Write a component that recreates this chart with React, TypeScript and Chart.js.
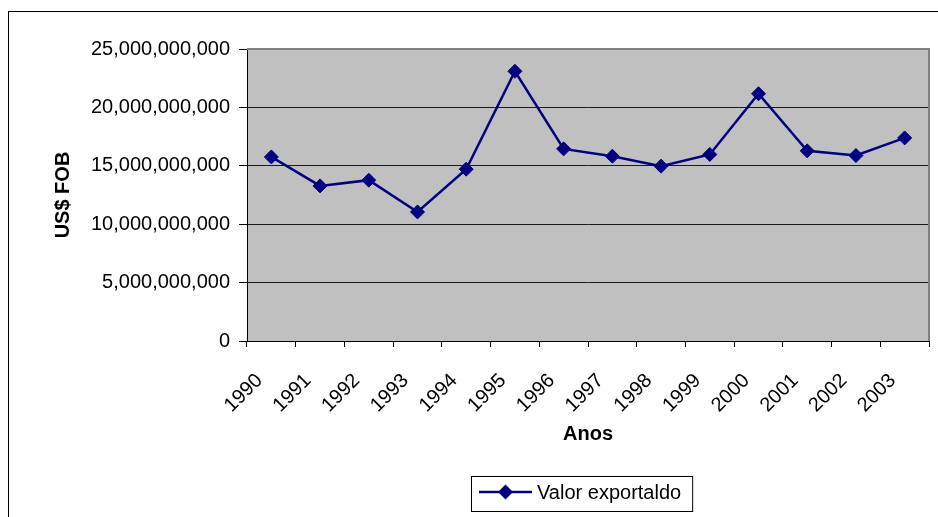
import React, { useEffect, useRef } from 'react';
import { Chart, registerables } from 'chart.js';

Chart.register(...registerables);

const years = ['1990', '1991', '1992', '1993', '1994', '1995', '1996', '1997', '1998', '1999', '2000', '2001', '2002', '2003'];
const exportValues = [
  15760000000, 13280000000, 13770000000, 11050000000, 14710000000, 23090000000, 16450000000,
  15820000000, 14970000000, 15970000000, 21170000000, 16280000000, 15880000000, 17390000000,
];
const seriesLabel = 'Valor exportaldo';
const xTitle = 'Anos';
const yTitle = 'US$ FOB';
const yMin = 0;
const yMax = 25000000000;
const yStep = 5000000000;

const FONT = '"Liberation Sans", Arial, Helvetica, sans-serif';
const NAVY = '#000080';

const framePlugin = {
  id: 'frame',
  beforeDraw(chart: any) {
    const { ctx, chartArea: a, width, height } = chart;
    ctx.save();
    ctx.fillStyle = '#ffffff';
    ctx.fillRect(0, 0, width, height);
    ctx.strokeStyle = '#000000';
    ctx.lineWidth = 1;
    ctx.strokeRect(8.5, 11.5, width + 20, height + 20);
    ctx.fillStyle = '#C0C0C0';
    ctx.fillRect(a.left, a.top, a.right - a.left, a.bottom - a.top);
    ctx.restore();
  },
  beforeDatasetsDraw(chart: any) {
    const { ctx, chartArea: a } = chart;
    ctx.save();
    ctx.strokeStyle = '#808080';
    ctx.lineWidth = 2;
    ctx.beginPath();
    ctx.moveTo(a.left, a.top);
    ctx.lineTo(a.right, a.top);
    ctx.lineTo(a.right, a.bottom);
    ctx.stroke();
    ctx.restore();
  },
};

const boxLegendPlugin = {
  id: 'boxLegend',
  afterDraw(chart: any) {
    const ds = chart.data.datasets[0];
    const { ctx } = chart;
    ctx.save();
    ctx.font = `20px ${FONT}`;
    const tw = ctx.measureText(ds.label).width;
    const x0 = 471;
    const y0 = 476;
    const h = 35;
    const padL = 8;
    const lineLen = 53;
    const gap = 5;
    const padR = 11;
    const w = padL + lineLen + gap + tw + padR;
    ctx.fillStyle = '#ffffff';
    ctx.fillRect(x0, y0, w, h);
    ctx.strokeStyle = '#000000';
    ctx.lineWidth = 1;
    ctx.strokeRect(x0 + 0.5, y0 + 0.5, w, h);
    const cy = y0 + 16;
    ctx.strokeStyle = ds.borderColor;
    ctx.lineWidth = ds.borderWidth;
    ctx.beginPath();
    ctx.moveTo(x0 + padL, cy);
    ctx.lineTo(x0 + padL + lineLen, cy);
    ctx.stroke();
    const mx = x0 + padL + lineLen / 2;
    const r = 7.5;
    ctx.fillStyle = ds.pointBackgroundColor;
    ctx.beginPath();
    ctx.moveTo(mx, cy - r);
    ctx.lineTo(mx + r, cy);
    ctx.lineTo(mx, cy + r);
    ctx.lineTo(mx - r, cy);
    ctx.closePath();
    ctx.fill();
    ctx.fillStyle = '#000000';
    ctx.textAlign = 'left';
    ctx.textBaseline = 'middle';
    ctx.fillText(ds.label, x0 + padL + lineLen + gap, cy + 1);
    ctx.restore();
  },
};

export default function App() {
  const canvasRef = useRef<HTMLCanvasElement | null>(null);

  useEffect(() => {
    const canvas = canvasRef.current;
    if (!canvas) return;
    const chart = new Chart(canvas, {
      type: 'line',
      data: {
        labels: years,
        datasets: [
          {
            label: seriesLabel,
            data: exportValues,
            borderColor: NAVY,
            backgroundColor: NAVY,
            borderWidth: 2.5,
            pointStyle: 'rectRot',
            pointRadius: 7,
            pointBorderWidth: 1,
            pointBackgroundColor: NAVY,
            pointBorderColor: NAVY,
            tension: 0,
            fill: false,
          },
        ],
      },
      options: {
        responsive: false,
        animation: false,
        devicePixelRatio: 1,
        layout: { padding: { left: 40, top: 49, right: 9, bottom: 60 } },
        plugins: {
          legend: { display: false },
          tooltip: { enabled: false },
          title: { display: false },
        },
        scales: {
          x: {
            type: 'category',
            offset: true,
            grid: {
              offset: true,
              drawOnChartArea: false,
              drawTicks: true,
              tickLength: 6,
              color: '#000000',
              tickColor: '#000000',
            },
            border: { display: true, color: '#000000', width: 1 },
            ticks: {
              autoSkip: false,
              maxRotation: 45,
              minRotation: 45,
              padding: 22,
              labelOffset: -12,
              color: '#000000',
              font: { family: FONT, size: 20 },
            },
            title: {
              display: true,
              text: xTitle,
              color: '#000000',
              font: { family: FONT, size: 20, weight: 'bold' },
              padding: { top: 0, bottom: 11 },
            },
            afterFit(scale: any) {
              scale.height = 116;
              scale.paddingRight = 0;
              scale.paddingLeft = 0;
            },
          },
          y: {
            min: yMin,
            max: yMax,
            grid: {
              drawTicks: true,
              tickLength: 8,
              color: (c: any) => (c.tick && c.tick.value === yMax ? '#808080' : '#1a1a1a'),
              tickColor: '#000000',
              lineWidth: 1,
            },
            border: { display: true, color: '#000000', width: 1 },
            ticks: {
              stepSize: yStep,
              padding: 9,
              color: '#000000',
              font: { family: FONT, size: 20 },
              callback: (v: any) => Number(v).toLocaleString('en-US'),
            },
            title: {
              display: true,
              text: yTitle,
              color: '#000000',
              font: { family: FONT, size: 20, weight: 'bold' },
              padding: { top: 11, bottom: 0 },
            },
            afterFit(scale: any) {
              scale.width = 207;
            },
          },
        },
      },
      plugins: [framePlugin, boxLegendPlugin],
    });
    return () => chart.destroy();
  }, []);

  return (
    <div style={{ position: 'absolute', left: 0, top: 0, width: 938, height: 517 }}>
      <canvas ref={canvasRef} width={938} height={517} style={{ display: 'block', width: 938, height: 517 }} />
    </div>
  );
}
